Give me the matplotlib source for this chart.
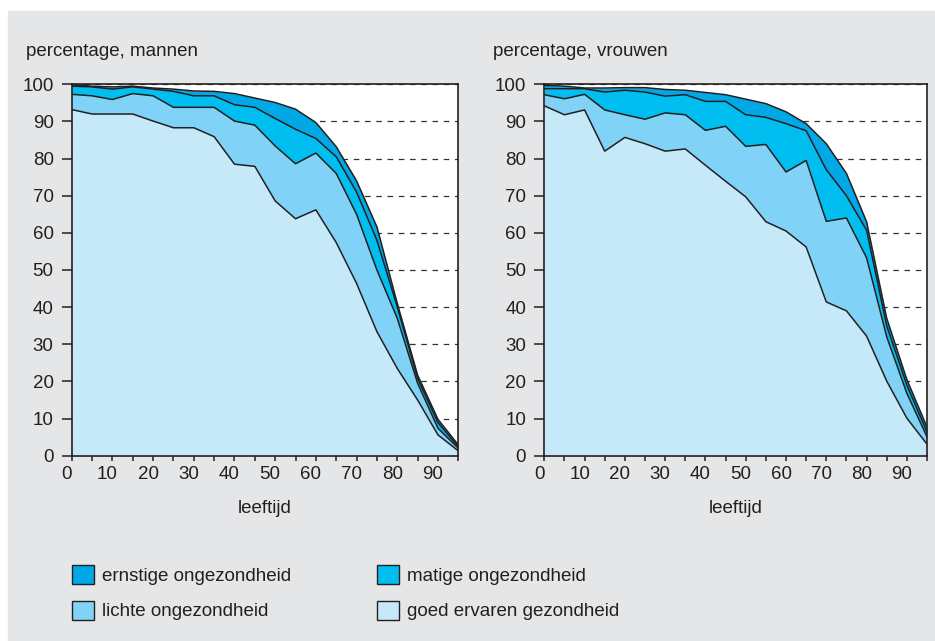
import numpy as np
import matplotlib.pyplot as plt
import matplotlib.transforms as mtransforms
from matplotlib.patches import Rectangle, Patch

plt.rcParams['font.family'] = ['Liberation Sans', 'DejaVu Sans']
plt.rcParams['font.size'] = 13.5

# leeftijd (age classes)
ages = [0, 5, 10, 15, 20, 25, 30, 35, 40, 45, 50, 55, 60, 65, 70, 75, 80, 85, 90, 95]

# mannen: cumulative percentages (upper edge of each band)
goed_m = [93.2, 92.0, 92.0, 92.0, 90.1, 88.3, 88.3, 85.9, 78.5, 77.9,
          68.6, 63.8, 66.2, 57.4, 46.4, 33.4, 23.5, 15.0, 5.6, 1.3]
lichte_m = [97.3, 96.9, 95.9, 97.5, 96.9, 93.8, 93.8, 93.8, 90.1, 89.0,
            83.4, 78.6, 81.5, 76.0, 65.0, 50.0, 37.0, 19.5, 7.4, 2.0]
matige_m = [99.5, 99.3, 98.7, 99.3, 98.7, 98.1, 96.9, 96.9, 94.5, 93.8,
            90.8, 87.9, 85.4, 80.5, 71.0, 58.0, 40.1, 20.8, 8.9, 2.4]
ernstige_m = [99.9, 99.5, 99.3, 99.5, 99.0, 98.7, 98.2, 98.1, 97.5, 96.3,
              95.1, 93.3, 89.7, 83.2, 74.0, 61.6, 41.0, 21.7, 9.8, 2.9]

# vrouwen
goed_v = [94.2, 91.8, 93.1, 82.0, 85.7, 84.0, 82.0, 82.6, 78.2, 73.9,
          69.7, 63.0, 60.5, 56.2, 41.4, 39.0, 32.2, 20.1, 10.1, 3.1]
lichte_v = [97.2, 96.1, 97.3, 93.1, 91.8, 90.6, 92.3, 91.8, 87.6, 88.7,
            83.3, 83.8, 76.4, 79.5, 63.1, 64.0, 53.3, 32.0, 16.8, 5.1]
matige_v = [98.8, 98.8, 98.8, 97.9, 98.4, 97.9, 96.8, 97.2, 95.4, 95.4,
            91.8, 91.1, 89.4, 87.5, 77.0, 70.0, 60.7, 35.0, 19.0, 6.4]
ernstige_v = [99.7, 99.5, 99.0, 99.0, 99.1, 99.1, 98.6, 98.4, 97.8, 97.2,
              96.0, 94.8, 92.6, 89.4, 84.0, 76.0, 63.0, 37.0, 20.5, 7.7]

labels = ['ernstige ongezondheid', 'matige ongezondheid',
          'lichte ongezondheid', 'goed ervaren gezondheid']
colors = ['#00a8e6', '#00bff0', '#80d3f6', '#c6e9fa']
ink = '#231f20'

fig = plt.figure(figsize=(9.35, 6.41), dpi=100)
fig.patch.set_facecolor('white')
fig.add_artist(Rectangle((8 / 935, 0), 1, 1 - 11 / 641, transform=fig.transFigure,
                         color='#e5e6e8', zorder=-10))


def panel(rect, goed, lichte, matige, ernstige, title, title_x):
    ax = fig.add_axes(rect)
    ax.set_facecolor('white')
    bands = [np.zeros(len(ages)), goed, lichte, matige, ernstige]
    cols = colors[::-1]
    for i in range(4):
        ax.fill_between(ages, bands[i], bands[i + 1], color=cols[i], lw=0, zorder=2)
    for b in bands[1:]:
        ax.plot(ages, b, color=ink, lw=1.1, zorder=3)
    ax.set_xlim(0, 95)
    ax.set_ylim(0, 100)
    ax.set_yticks(range(0, 101, 10))
    ax.set_xticks(ages)
    ax.set_xticklabels([str(a) if a % 10 == 0 else '' for a in ages])
    ax.yaxis.grid(True, linestyle=(0, (4.5, 4.5)), color='#333333', lw=0.9)
    ax.set_axisbelow(True)
    for s in ax.spines.values():
        s.set_color(ink)
        s.set_linewidth(1.2)
    ax.tick_params(axis='y', length=7, width=1.1, pad=6, colors=ink)
    ax.tick_params(axis='x', length=3.5, width=1.1, pad=4, colors=ink)
    shift = mtransforms.ScaledTranslation(-5 / 100, 0, fig.dpi_scale_trans)
    for lab in ax.get_xticklabels():
        lab.set_transform(lab.get_transform() + shift)
    ax.set_xlabel('leeftijd', labelpad=12, color=ink)
    fig.text(title_x / 935, 1 - 52 / 641, title, va='center', ha='left', color=ink)
    return ax


panel([71.7 / 935, 1 - 455.7 / 641, 386.6 / 935, 371.4 / 641],
      goed_m, lichte_m, matige_m, ernstige_m, 'percentage, mannen', 26)
panel([544.3 / 935, 1 - 455.7 / 641, 382.7 / 935, 371.4 / 641],
      goed_v, lichte_v, matige_v, ernstige_v, 'percentage, vrouwen', 493)

handles = [Patch(facecolor=c, edgecolor=ink, lw=1) for c in colors]
for col, x0 in enumerate([72, 377]):
    idx = [col, col + 2]
    leg = fig.legend([handles[i] for i in idx], [labels[i] for i in idx],
                     loc='upper left', bbox_to_anchor=(x0 / 935, 1 - 565 / 641),
                     frameon=False, borderpad=0, borderaxespad=0,
                     handlelength=1.17, handleheight=1.17, handletextpad=0.45,
                     labelspacing=0.85, labelcolor=ink)

fig.savefig('out.png', dpi=100)
